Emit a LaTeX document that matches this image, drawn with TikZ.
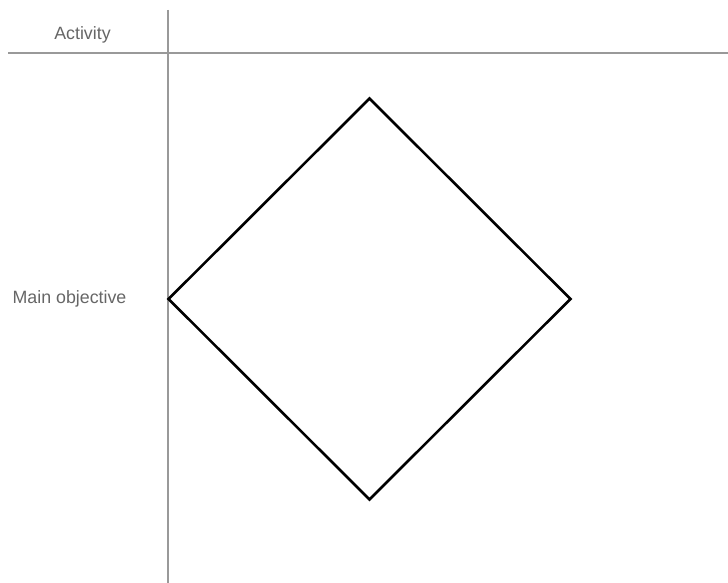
\documentclass[tikz,border=0pt]{standalone}
\usepackage{fontspec}
\setmainfont{Liberation Sans}
\usetikzlibrary{shapes.geometric}

\definecolor{axisgray}{HTML}{999999}
\definecolor{labelgray}{HTML}{666666}

\tikzset{
  axisline/.style={draw=axisgray, line width=1.3pt},
  axislabel/.style={font=\fontsize{17.8}{20}\selectfont, text=labelgray},
  goalbox/.style={diamond, draw=black, line width=2.6pt, inner sep=0pt,
    minimum width=403pt, minimum height=402pt}
}

\begin{document}
\begin{tikzpicture}[x=1pt, y=-1pt]
  \useasboundingbox (0,0) rectangle (728,583);

  % header row and left column
  \coordinate (colTop) at (168,10);
  \coordinate (colBot) at (168,583);
  \coordinate (rowL) at (8,53);
  \coordinate (rowR) at (728,53);
  \draw[axisline] (colTop) -- (colBot);
  \draw[axisline] (rowL) -- (rowR);

  % labels
  \node[axislabel] (activity) at (82.5,35) {Activity};
  \node[axislabel] (objective) at (69.5,299) {Main objective};

  % main shape
  \node[goalbox] (goal) at (369.5,299) {};
\end{tikzpicture}
\end{document}
